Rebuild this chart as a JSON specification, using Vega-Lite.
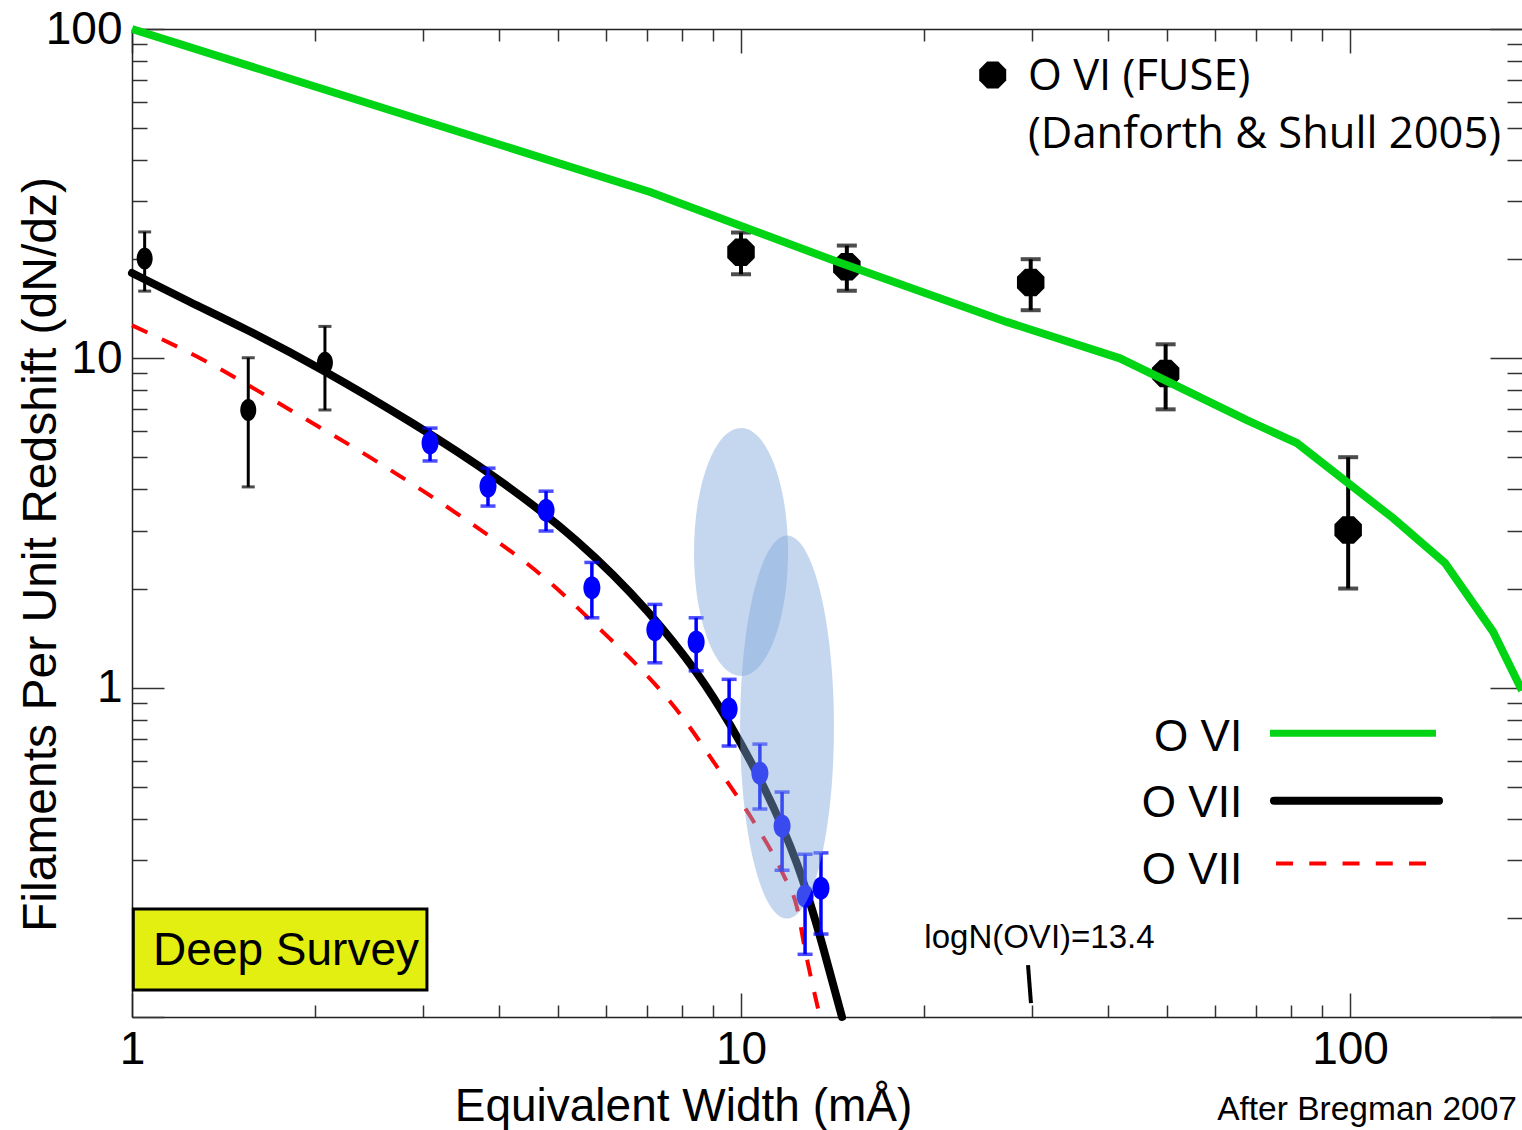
{
  "$schema": "https://vega.github.io/schema/vega-lite/v6.json",
  "width": 1390,
  "height": 988,
  "autosize": {"type": "none"},
  "padding": {"left": 132, "top": 29, "right": 0, "bottom": 113},
  "background": "#ffffff",
  "config": {"view": {"stroke": null}},
  "datasets": {
    "green": [
      {"x": 1, "y": 100}, {"x": 7.09, "y": 32.0}, {"x": 14.54, "y": 19.5}, {"x": 27.3, "y": 12.9},
      {"x": 41.9, "y": 10.0}, {"x": 67.7, "y": 6.49}, {"x": 81.8, "y": 5.53}, {"x": 117.7, "y": 3.27},
      {"x": 143.2, "y": 2.39}, {"x": 171.7, "y": 1.48}, {"x": 191.6, "y": 0.98}
    ],
    "o7": [
      {"x": 1.0, "y": 18.16}, {"x": 1.245, "y": 14.83}, {"x": 1.545, "y": 12.19}, {"x": 2.059, "y": 9.19},
      {"x": 2.893, "y": 6.34}, {"x": 3.975, "y": 4.31}, {"x": 5.38, "y": 2.784}, {"x": 7.01, "y": 1.711},
      {"x": 8.47, "y": 1.105}, {"x": 9.59, "y": 0.7725}, {"x": 10.87, "y": 0.504}, {"x": 12.36, "y": 0.2916},
      {"x": 13.63, "y": 0.1633}, {"x": 14.65, "y": 0.1}
    ],
    "o7b": [
      {"x": 1.0, "y": 12.6}, {"x": 1.326, "y": 9.77}, {"x": 1.84, "y": 6.88}, {"x": 2.537, "y": 4.83},
      {"x": 3.478, "y": 3.30}, {"x": 4.736, "y": 2.17}, {"x": 5.65, "y": 1.609}, {"x": 8.03, "y": 0.809},
      {"x": 9.24, "y": 0.557}, {"x": 10.48, "y": 0.393}, {"x": 11.74, "y": 0.270}, {"x": 12.35, "y": 0.2157},
      {"x": 12.74, "y": 0.160}, {"x": 13.48, "y": 0.1}
    ],
    "blackpts": [
      {"x": 1.049, "y": 20.1, "lo": 16.0, "hi": 24.2},
      {"x": 1.552, "y": 6.97, "lo": 4.07, "hi": 10.04},
      {"x": 2.074, "y": 9.70, "lo": 6.97, "hi": 12.5}
    ],
    "bluepts": [
      {"x": 3.086, "y": 5.53, "lo": 4.88, "hi": 6.14},
      {"x": 3.842, "y": 4.09, "lo": 3.56, "hi": 4.64},
      {"x": 4.785, "y": 3.46, "lo": 2.99, "hi": 3.95},
      {"x": 5.69, "y": 2.01, "lo": 1.63, "hi": 2.40},
      {"x": 7.22, "y": 1.50, "lo": 1.19, "hi": 1.79},
      {"x": 8.44, "y": 1.375, "lo": 1.125, "hi": 1.63},
      {"x": 9.56, "y": 0.861, "lo": 0.665, "hi": 1.06},
      {"x": 10.74, "y": 0.550, "lo": 0.428, "hi": 0.674},
      {"x": 11.68, "y": 0.380, "lo": 0.279, "hi": 0.482},
      {"x": 12.74, "y": 0.233, "lo": 0.155, "hi": 0.312},
      {"x": 13.53, "y": 0.246, "lo": 0.1786, "hi": 0.315}
    ],
    "fuse": [
      {"x": 10.0, "y": 21.0, "lo": 18.0, "hi": 24.1},
      {"x": 14.92, "y": 18.97, "lo": 16.04, "hi": 22.0},
      {"x": 29.9, "y": 17.0, "lo": 14.0, "hi": 20.0},
      {"x": 49.8, "y": 9.0, "lo": 7.0, "hi": 11.03},
      {"x": 99.3, "y": 3.01, "lo": 2.0, "hi": 5.01}
    ],
    "ell1": [{"x": 10.0, "y": 2.58}],
    "ell2": [{"x": 11.9, "y": 0.759}],
    "box": [{"x": 1.005, "x2": 3.05, "y": 0.1207, "y2": 0.2127}],
    "boxlabel": [{"x": 1.083, "y": 0.1438, "text": "Deep Survey"}],
    "fuselegend": [{"x": 25.9, "y": 72.5}],
    "fusetext": [
      {"x": 29.6, "y": 65.3, "text": "O VI (FUSE)"},
      {"x": 29.6, "y": 43.5, "text": "(Danforth & Shull 2005)"}
    ],
    "legendtext": [
      {"x": 66.5, "y": 0.6434, "text": "O VI"},
      {"x": 66.5, "y": 0.4046, "text": "O VII"},
      {"x": 66.5, "y": 0.2532, "text": "O VII"}
    ],
    "leg_green": [{"x": 73.9, "x2": 138.4, "y": 0.7265}],
    "leg_black": [{"x": 75.0, "x2": 140.0, "y": 0.4535}],
    "leg_red": [{"x": 75.6, "x2": 133.3, "y": 0.2927}],
    "logn_line": [{"x": 29.6, "y": 0.1438}, {"x": 29.93, "y": 0.1102}],
    "logn_text": [{"x": 20.0, "y": 0.162, "text": "logN(OVI)=13.4"}],
    "credit": [{"x": 188.0, "y": 0.0486, "text": "After Bregman 2007"}]
  },
  "layer": [
    {
      "data": {"name": "box"},
      "mark": {"type": "rect", "fill": "#e3ef10", "stroke": "#000000", "strokeWidth": 3},
      "encoding": {
        "x": {"field": "x", "type": "quantitative", "scale": {"type": "log", "domain": [1, 191.6], "nice": false}, "axis": null},
        "x2": {"field": "x2"},
        "y": {"field": "y", "type": "quantitative", "scale": {"type": "log", "domain": [0.1, 100], "nice": false}, "axis": null},
        "y2": {"field": "y2"}
      }
    },
    {
      "data": {"name": "boxlabel"},
      "mark": {"type": "text", "font": "Liberation Sans", "fontSize": 46, "align": "left", "baseline": "alphabetic", "color": "#000000"},
      "encoding": {
        "x": {"field": "x", "type": "quantitative", "scale": {"type": "log", "domain": [1, 191.6], "nice": false}, "axis": null},
        "y": {"field": "y", "type": "quantitative", "scale": {"type": "log", "domain": [0.1, 100], "nice": false}, "axis": null},
        "text": {"field": "text"}
      }
    },
    {
      "data": {"name": "o7b"},
      "mark": {"type": "line", "color": "#ff0000", "strokeWidth": 4, "strokeDash": [17, 16], "interpolate": "monotone"},
      "encoding": {
        "x": {"field": "x", "type": "quantitative", "scale": {"type": "log", "domain": [1, 191.6], "nice": false},
          "axis": {"orient": "top", "values": [1,2,3,4,5,6,7,8,9,10,20,30,40,50,60,70,80,90,100],
            "tickSize": {"condition": {"test": "datum.value == 1 || datum.value == 10 || datum.value == 100", "value": -24}, "value": -12},
            "labels": false, "title": null, "grid": false, "domainColor": "#222222", "domainWidth": 1.5, "tickColor": "#333333", "tickWidth": 1.5}},
        "y": {"field": "y", "type": "quantitative", "scale": {"type": "log", "domain": [0.1, 100], "nice": false},
          "axis": {"orient": "right", "values": [0.1,0.2,0.3,0.4,0.5,0.6,0.7,0.8,0.9,1,2,3,4,5,6,7,8,9,10,20,30,40,50,60,70,80,90,100],
            "tickSize": {"condition": {"test": "datum.value == 0.1 || datum.value == 1 || datum.value == 10 || datum.value == 100", "value": -32}, "value": -15},
            "labels": false, "title": null, "grid": false, "domain": false, "tickColor": "#333333", "tickWidth": 1.5}}
      }
    },
    {
      "data": {"name": "o7"},
      "mark": {"type": "line", "color": "#000000", "strokeWidth": 8, "interpolate": "natural", "strokeCap": "round"},
      "encoding": {
        "x": {"field": "x", "type": "quantitative", "scale": {"type": "log", "domain": [1, 191.6], "nice": false}, "axis": null},
        "y": {"field": "y", "type": "quantitative", "scale": {"type": "log", "domain": [0.1, 100], "nice": false}, "axis": null}
      }
    },
    {
      "data": {"name": "blackpts"},
      "mark": {"type": "rule", "color": "#000000", "strokeWidth": 3},
      "encoding": {
        "x": {"field": "x", "type": "quantitative", "scale": {"type": "log", "domain": [1, 191.6], "nice": false}, "axis": null},
        "y": {"field": "lo", "type": "quantitative", "scale": {"type": "log", "domain": [0.1, 100], "nice": false}, "axis": null},
        "y2": {"field": "hi"}
      }
    },
    {
      "data": {"name": "blackpts"},
      "mark": {"type": "tick", "orient": "horizontal", "color": "#000000", "size": 13, "thickness": 3},
      "encoding": {
        "x": {"field": "x", "type": "quantitative", "scale": {"type": "log", "domain": [1, 191.6], "nice": false}, "axis": null},
        "y": {"field": "lo", "type": "quantitative", "scale": {"type": "log", "domain": [0.1, 100], "nice": false}, "axis": null}
      }
    },
    {
      "data": {"name": "blackpts"},
      "mark": {"type": "tick", "orient": "horizontal", "color": "#000000", "size": 13, "thickness": 3},
      "encoding": {
        "x": {"field": "x", "type": "quantitative", "scale": {"type": "log", "domain": [1, 191.6], "nice": false}, "axis": null},
        "y": {"field": "hi", "type": "quantitative", "scale": {"type": "log", "domain": [0.1, 100], "nice": false}, "axis": null}
      }
    },
    {
      "data": {"name": "blackpts"},
      "mark": {"type": "point", "shape": "M0,-1A0.727,1 0 1,1 0,1A0.727,1 0 1,1 0,-1Z", "filled": true, "size": 484, "color": "#000000", "opacity": 1, "strokeWidth": 0},
      "encoding": {
        "x": {"field": "x", "type": "quantitative", "scale": {"type": "log", "domain": [1, 191.6], "nice": false}, "axis": null},
        "y": {"field": "y", "type": "quantitative", "scale": {"type": "log", "domain": [0.1, 100], "nice": false}, "axis": null}
      }
    },
    {
      "data": {"name": "bluepts"},
      "mark": {"type": "rule", "color": "#0000ff", "strokeWidth": 3.5},
      "encoding": {
        "x": {"field": "x", "type": "quantitative", "scale": {"type": "log", "domain": [1, 191.6], "nice": false}, "axis": null},
        "y": {"field": "lo", "type": "quantitative", "scale": {"type": "log", "domain": [0.1, 100], "nice": false}, "axis": null},
        "y2": {"field": "hi"}
      }
    },
    {
      "data": {"name": "bluepts"},
      "mark": {"type": "tick", "orient": "horizontal", "color": "#0000ff", "size": 15, "thickness": 3.5},
      "encoding": {
        "x": {"field": "x", "type": "quantitative", "scale": {"type": "log", "domain": [1, 191.6], "nice": false}, "axis": null},
        "y": {"field": "lo", "type": "quantitative", "scale": {"type": "log", "domain": [0.1, 100], "nice": false}, "axis": null}
      }
    },
    {
      "data": {"name": "bluepts"},
      "mark": {"type": "tick", "orient": "horizontal", "color": "#0000ff", "size": 15, "thickness": 3.5},
      "encoding": {
        "x": {"field": "x", "type": "quantitative", "scale": {"type": "log", "domain": [1, 191.6], "nice": false}, "axis": null},
        "y": {"field": "hi", "type": "quantitative", "scale": {"type": "log", "domain": [0.1, 100], "nice": false}, "axis": null}
      }
    },
    {
      "data": {"name": "bluepts"},
      "mark": {"type": "point", "shape": "M0,-1A0.74,1 0 1,1 0,1A0.74,1 0 1,1 0,-1Z", "filled": true, "size": 529, "color": "#0000ff", "opacity": 1, "strokeWidth": 0},
      "encoding": {
        "x": {"field": "x", "type": "quantitative", "scale": {"type": "log", "domain": [1, 191.6], "nice": false}, "axis": null},
        "y": {"field": "y", "type": "quantitative", "scale": {"type": "log", "domain": [0.1, 100], "nice": false}, "axis": null}
      }
    },
    {
      "data": {"name": "fuse"},
      "mark": {"type": "rule", "color": "#000000", "strokeWidth": 4},
      "encoding": {
        "x": {"field": "x", "type": "quantitative", "scale": {"type": "log", "domain": [1, 191.6], "nice": false}, "axis": null},
        "y": {"field": "lo", "type": "quantitative", "scale": {"type": "log", "domain": [0.1, 100], "nice": false}, "axis": null},
        "y2": {"field": "hi"}
      }
    },
    {
      "data": {"name": "fuse"},
      "mark": {"type": "tick", "orient": "horizontal", "color": "#000000", "size": 20, "thickness": 4},
      "encoding": {
        "x": {"field": "x", "type": "quantitative", "scale": {"type": "log", "domain": [1, 191.6], "nice": false}, "axis": null},
        "y": {"field": "lo", "type": "quantitative", "scale": {"type": "log", "domain": [0.1, 100], "nice": false}, "axis": null}
      }
    },
    {
      "data": {"name": "fuse"},
      "mark": {"type": "tick", "orient": "horizontal", "color": "#000000", "size": 20, "thickness": 4},
      "encoding": {
        "x": {"field": "x", "type": "quantitative", "scale": {"type": "log", "domain": [1, 191.6], "nice": false}, "axis": null},
        "y": {"field": "hi", "type": "quantitative", "scale": {"type": "log", "domain": [0.1, 100], "nice": false}, "axis": null}
      }
    },
    {
      "data": {"name": "fuse"},
      "mark": {"type": "point", "shape": "M-0.414,-1L0.414,-1L1,-0.414L1,0.414L0.414,1L-0.414,1L-1,0.414L-1,-0.414Z", "filled": true, "size": 756, "color": "#000000", "opacity": 1, "strokeWidth": 0},
      "encoding": {
        "x": {"field": "x", "type": "quantitative", "scale": {"type": "log", "domain": [1, 191.6], "nice": false}, "axis": null},
        "y": {"field": "y", "type": "quantitative", "scale": {"type": "log", "domain": [0.1, 100], "nice": false}, "axis": null}
      }
    },
    {
      "data": {"name": "green"},
      "mark": {"type": "line", "color": "#00d415", "strokeWidth": 8},
      "encoding": {
        "x": {"field": "x", "type": "quantitative", "scale": {"type": "log", "domain": [1, 191.6], "nice": false},
          "axis": {"orient": "bottom", "values": [1,2,3,4,5,6,7,8,9,10,20,30,40,50,60,70,80,90,100],
            "tickSize": {"condition": {"test": "datum.value == 1 || datum.value == 10 || datum.value == 100", "value": -24}, "value": -12},
            "labelExpr": "(datum.value == 1 || datum.value == 10 || datum.value == 100) ? format(datum.value, 'd') : ''",
            "labelFont": "Liberation Sans", "labelFontSize": 46, "labelColor": "#000000", "labelPadding": 34,
            "labelFlush": false, "labelOverlap": false, "labelBaseline": "top",
            "grid": false, "domainColor": "#222222", "domainWidth": 1.5, "tickColor": "#333333", "tickWidth": 1.5,
            "title": "Equivalent Width (mÅ)", "titleFont": "Liberation Sans", "titleFontSize": 46, "titleFontWeight": "normal",
            "titleColor": "#000000", "titleX": 551, "titleY": 103, "titleBaseline": "alphabetic", "titleAlign": "center"}},
        "y": {"field": "y", "type": "quantitative", "scale": {"type": "log", "domain": [0.1, 100], "nice": false},
          "axis": {"orient": "left", "values": [0.1,0.2,0.3,0.4,0.5,0.6,0.7,0.8,0.9,1,2,3,4,5,6,7,8,9,10,20,30,40,50,60,70,80,90,100],
            "tickSize": {"condition": {"test": "datum.value == 0.1 || datum.value == 1 || datum.value == 10 || datum.value == 100", "value": -32}, "value": -15},
            "labelExpr": "(datum.value == 1 || datum.value == 10 || datum.value == 100) ? format(datum.value, 'd') : ''",
            "labelFont": "Liberation Sans", "labelFontSize": 46, "labelColor": "#000000", "labelPadding": 42,
            "labelFlush": false, "labelOverlap": false, "labelBaseline": "middle", "labelAlign": "right",
            "grid": false, "domainColor": "#222222", "domainWidth": 1.5, "tickColor": "#333333", "tickWidth": 1.5,
            "title": "Filaments Per Unit Redshift (dN/dz)", "titleFont": "Liberation Sans", "titleFontSize": 48, "titleFontWeight": "normal",
            "titleColor": "#000000", "titleX": -77, "titleY": 525, "titleAngle": -90, "titleBaseline": "alphabetic", "titleAlign": "center"}}
      }
    },
    {
      "data": {"name": "ell1"},
      "mark": {"type": "point", "shape": "M0,-1A0.379,1 0 1,1 0,1A0.379,1 0 1,1 0,-1Z", "filled": true, "size": 61504, "color": "#7fa6dc", "opacity": 0.45, "strokeWidth": 0},
      "encoding": {
        "x": {"field": "x", "type": "quantitative", "scale": {"type": "log", "domain": [1, 191.6], "nice": false}, "axis": null},
        "y": {"field": "y", "type": "quantitative", "scale": {"type": "log", "domain": [0.1, 100], "nice": false}, "axis": null}
      }
    },
    {
      "data": {"name": "ell2"},
      "mark": {"type": "point", "shape": "M0,-1A0.245,1 0 1,1 0,1A0.245,1 0 1,1 0,-1Z", "filled": true, "size": 146689, "color": "#7fa6dc", "opacity": 0.45, "strokeWidth": 0},
      "encoding": {
        "x": {"field": "x", "type": "quantitative", "scale": {"type": "log", "domain": [1, 191.6], "nice": false}, "axis": null},
        "y": {"field": "y", "type": "quantitative", "scale": {"type": "log", "domain": [0.1, 100], "nice": false}, "axis": null}
      }
    },
    {
      "data": {"name": "fuselegend"},
      "mark": {"type": "point", "shape": "M-0.414,-1L0.414,-1L1,-0.414L1,0.414L0.414,1L-0.414,1L-1,0.414L-1,-0.414Z", "filled": true, "size": 729, "color": "#000000", "opacity": 1, "strokeWidth": 0},
      "encoding": {
        "x": {"field": "x", "type": "quantitative", "scale": {"type": "log", "domain": [1, 191.6], "nice": false}, "axis": null},
        "y": {"field": "y", "type": "quantitative", "scale": {"type": "log", "domain": [0.1, 100], "nice": false}, "axis": null}
      }
    },
    {
      "data": {"name": "fusetext"},
      "mark": {"type": "text", "font": "Open Sans", "fontSize": 43.5, "align": "left", "baseline": "alphabetic", "color": "#000000"},
      "encoding": {
        "x": {"field": "x", "type": "quantitative", "scale": {"type": "log", "domain": [1, 191.6], "nice": false}, "axis": null},
        "y": {"field": "y", "type": "quantitative", "scale": {"type": "log", "domain": [0.1, 100], "nice": false}, "axis": null},
        "text": {"field": "text"}
      }
    },
    {
      "data": {"name": "legendtext"},
      "mark": {"type": "text", "font": "Liberation Sans", "fontSize": 44, "align": "right", "baseline": "alphabetic", "color": "#000000"},
      "encoding": {
        "x": {"field": "x", "type": "quantitative", "scale": {"type": "log", "domain": [1, 191.6], "nice": false}, "axis": null},
        "y": {"field": "y", "type": "quantitative", "scale": {"type": "log", "domain": [0.1, 100], "nice": false}, "axis": null},
        "text": {"field": "text"}
      }
    },
    {
      "data": {"name": "leg_green"},
      "mark": {"type": "rule", "color": "#00d415", "strokeWidth": 7},
      "encoding": {
        "x": {"field": "x", "type": "quantitative", "scale": {"type": "log", "domain": [1, 191.6], "nice": false}, "axis": null},
        "x2": {"field": "x2"},
        "y": {"field": "y", "type": "quantitative", "scale": {"type": "log", "domain": [0.1, 100], "nice": false}, "axis": null}
      }
    },
    {
      "data": {"name": "leg_black"},
      "mark": {"type": "rule", "color": "#000000", "strokeWidth": 8, "strokeCap": "round"},
      "encoding": {
        "x": {"field": "x", "type": "quantitative", "scale": {"type": "log", "domain": [1, 191.6], "nice": false}, "axis": null},
        "x2": {"field": "x2"},
        "y": {"field": "y", "type": "quantitative", "scale": {"type": "log", "domain": [0.1, 100], "nice": false}, "axis": null}
      }
    },
    {
      "data": {"name": "leg_red"},
      "mark": {"type": "rule", "color": "#ff0000", "strokeWidth": 4, "strokeDash": [17, 16.25]},
      "encoding": {
        "x": {"field": "x", "type": "quantitative", "scale": {"type": "log", "domain": [1, 191.6], "nice": false}, "axis": null},
        "x2": {"field": "x2"},
        "y": {"field": "y", "type": "quantitative", "scale": {"type": "log", "domain": [0.1, 100], "nice": false}, "axis": null}
      }
    },
    {
      "data": {"name": "logn_line"},
      "mark": {"type": "line", "color": "#000000", "strokeWidth": 4},
      "encoding": {
        "x": {"field": "x", "type": "quantitative", "scale": {"type": "log", "domain": [1, 191.6], "nice": false}, "axis": null},
        "y": {"field": "y", "type": "quantitative", "scale": {"type": "log", "domain": [0.1, 100], "nice": false}, "axis": null}
      }
    },
    {
      "data": {"name": "logn_text"},
      "mark": {"type": "text", "font": "Liberation Sans", "fontSize": 33, "align": "left", "baseline": "alphabetic", "color": "#000000"},
      "encoding": {
        "x": {"field": "x", "type": "quantitative", "scale": {"type": "log", "domain": [1, 191.6], "nice": false}, "axis": null},
        "y": {"field": "y", "type": "quantitative", "scale": {"type": "log", "domain": [0.1, 100], "nice": false}, "axis": null},
        "text": {"field": "text"}
      }
    },
    {
      "data": {"name": "credit"},
      "mark": {"type": "text", "font": "Liberation Sans", "fontSize": 33.5, "align": "right", "baseline": "alphabetic", "color": "#000000"},
      "encoding": {
        "x": {"field": "x", "type": "quantitative", "scale": {"type": "log", "domain": [1, 191.6], "nice": false}, "axis": null},
        "y": {"field": "y", "type": "quantitative", "scale": {"type": "log", "domain": [0.1, 100], "nice": false}, "axis": null},
        "text": {"field": "text"}
      }
    }
  ],
  "resolve": {"axis": {"x": "independent", "y": "independent"}}
}
